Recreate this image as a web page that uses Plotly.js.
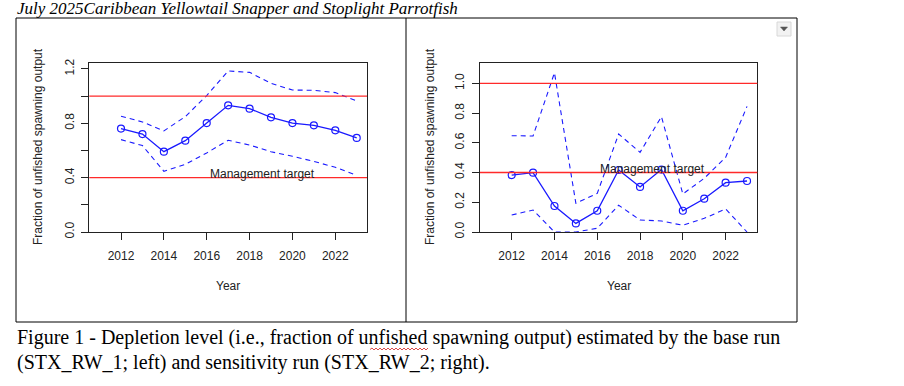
<!DOCTYPE html>
<html>
<head>
<meta charset="utf-8">
<script src="https://cdn.plot.ly/plotly-3.0.1.min.js"></script>
<style>html,body{margin:0;padding:0;background:#fff;}#chart{width:904px;height:386px;}</style>
</head>
<body>
<div id="chart"></div>
<script>
// ---- data ----
var years = [2012, 2013, 2014, 2015, 2016, 2017, 2018, 2019, 2020, 2021, 2022, 2023];
// base run (STX_RW_1, left)
var baseEst   = [0.761, 0.721, 0.591, 0.672, 0.802, 0.932, 0.908, 0.844, 0.802, 0.785, 0.748, 0.692];
var baseUpper = [0.852, 0.810, 0.744, 0.849, 1.004, 1.185, 1.175, 1.094, 1.045, 1.043, 1.026, 0.964];
var baseLower = [0.680, 0.636, 0.447, 0.498, 0.582, 0.675, 0.640, 0.591, 0.557, 0.520, 0.476, 0.417];
// sensitivity run (STX_RW_2, right)
var sensEst   = [0.383, 0.399, 0.175, 0.058, 0.143, 0.417, 0.303, 0.420, 0.143, 0.224, 0.332, 0.343];
var sensUpper = [0.648, 0.646, 1.071, 0.193, 0.260, 0.659, 0.536, 0.776, 0.256, 0.361, 0.502, 0.845];
var sensLower = [0.114, 0.148, 0.000, 0.000, 0.025, 0.180, 0.081, 0.074, 0.045, 0.092, 0.155, 0.000];
// reference levels
var unfishedLevel = 1.0;
var targetLevel = 0.4;
var targetLabel = "Management target";
var xTicks = [2012, 2014, 2016, 2018, 2020, 2022];
var leftYTicks = [0, 0.2, 0.4, 0.6, 0.8, 1.0, 1.2];
var leftYText = ["0.0", "", "0.4", "", "0.8", "", "1.2"];
var rightYTicks = [0, 0.2, 0.4, 0.6, 0.8, 1.0];
var rightYText = ["0.0", "0.2", "0.4", "0.6", "0.8", "1.0"];
var yTitle = "Fraction of unfished spawning output";
var xTitle = "Year";
var pageTitle = "July 2025Caribbean Yellowtail Snapper and Stoplight Parrotfish";
var caption1 = "Figure 1 - Depletion level (i.e., fraction of unfished spawning output) estimated by the base run";
var caption2 = "(STX_RW_1; left) and sensitivity run (STX_RW_2; right).";

// ---- layout helpers ----
var W = 904, H = 386;
function px(x) { return x / W; }
function py(y) { return 1 - y / H; }

var BLUE = "#1a1aff";
var RED = "#ff2a2a";
var SANS = "Liberation Sans, Arial, sans-serif";
var SERIF = "Liberation Serif, Times New Roman, serif";

function estTrace(y, xa, ya) {
  return {x: years, y: y, xaxis: xa, yaxis: ya, type: "scatter", mode: "lines+markers",
    line: {color: BLUE, width: 1.3},
    marker: {symbol: "circle-open", size: 7, color: BLUE, line: {width: 1.2, color: BLUE}},
    hoverinfo: "x+y", showlegend: false, cliponaxis: true};
}
function ciTrace(y, xa, ya) {
  return {x: years, y: y, xaxis: xa, yaxis: ya, type: "scatter", mode: "lines",
    line: {color: BLUE, width: 1.1, dash: "5px,4px"}, hoverinfo: "x+y", showlegend: false};
}

var traces = [
  ciTrace(baseUpper, "x", "y"), ciTrace(baseLower, "x", "y"), estTrace(baseEst, "x", "y"),
  ciTrace(sensUpper, "x2", "y2"), ciTrace(sensLower, "x2", "y2"), estTrace(sensEst, "x2", "y2")
];

function xAxis(d0, d1, anchor) {
  return {domain: [px(d0), px(d1)], range: [2010.52, 2023.48], anchor: anchor,
    tickvals: xTicks, ticktext: xTicks.map(String), ticks: "outside", ticklen: 7, tickcolor: "#222", tickwidth: 1,
    showline: true, mirror: true, linecolor: "#222", linewidth: 1, showgrid: false, zeroline: false,
    tickfont: {family: SANS, size: 12, color: "#222"}, ticklabelstandoff: 6, fixedrange: true};
}
function yAxis(top, bottom, range, tv, tt, anchor) {
  return {domain: [py(bottom), py(top)], range: range, anchor: anchor,
    tickvals: tv, ticktext: tt, tickangle: -90, ticks: "outside", ticklen: 7, tickcolor: "#222", tickwidth: 1,
    showline: true, mirror: true, linecolor: "#222", linewidth: 1, showgrid: false, zeroline: false,
    tickfont: {family: SANS, size: 12, color: "#222"}, ticklabelstandoff: 3, fixedrange: true};
}

function hline(level, xa, ya) {
  return {type: "line", xref: xa + " domain", yref: ya, x0: 0, x1: 1, y0: level, y1: level,
    line: {color: RED, width: 1.4}, layer: "above"};
}

var shapes = [
  hline(unfishedLevel, "x", "y"), hline(targetLevel, "x", "y"),
  hline(unfishedLevel, "x2", "y2"), hline(targetLevel, "x2", "y2"),
  // outer figure frame
  {type: "rect", xref: "paper", yref: "paper", x0: px(16), x1: px(797), y0: py(322), y1: py(18),
    line: {color: "#000", width: 1}},
  {type: "line", xref: "paper", yref: "paper", x0: px(406), x1: px(406), y0: py(322), y1: py(18),
    line: {color: "#000", width: 1}},
  // dropdown widget
  {type: "rect", xref: "paper", yref: "paper", x0: px(777), x1: px(791), y0: py(36), y1: py(22),
    line: {color: "#d8d8d8", width: 1}, fillcolor: "#f2f2f2"},
  {type: "path", xref: "paper", yref: "paper",
    path: "M " + px(780.5) + " " + py(27) + " L " + px(787.5) + " " + py(27) + " L " + px(784) + " " + py(31) + " Z",
    fillcolor: "#555", line: {color: "#555", width: 0.5}},
  // spell-check squiggle under "unfished"
  {type: "path", xref: "paper", yref: "paper",
    path: (function () {
      var s = "M " + px(370) + " " + py(349.5), up = true;
      for (var x = 372; x <= 428; x += 2) { s += " L " + px(x) + " " + py(up ? 348 : 350); up = !up; }
      return s;
    })(), line: {color: "#d02020", width: 0.8}}
];

var annotations = [
  {text: pageTitle, xref: "paper", yref: "paper", x: px(15), y: py(8.5), xanchor: "left", yanchor: "middle",
    showarrow: false, font: {family: SERIF, size: 17, color: "#000", style: "italic"}},
  {text: caption1, xref: "paper", yref: "paper", x: px(15), y: py(337), xanchor: "left", yanchor: "middle",
    showarrow: false, font: {family: SERIF, size: 20, color: "#000"}},
  {text: caption2, xref: "paper", yref: "paper", x: px(15), y: py(362), xanchor: "left", yanchor: "middle",
    showarrow: false, font: {family: SERIF, size: 20, color: "#000"}},
  {text: yTitle, xref: "paper", yref: "paper", x: px(38), y: py(147), textangle: -90, xanchor: "center", yanchor: "middle",
    showarrow: false, font: {family: SANS, size: 12, color: "#222"}},
  {text: yTitle, xref: "paper", yref: "paper", x: px(430), y: py(147), textangle: -90, xanchor: "center", yanchor: "middle",
    showarrow: false, font: {family: SANS, size: 12, color: "#222"}},
  {text: xTitle, xref: "paper", yref: "paper", x: px(228), y: py(286), xanchor: "center", yanchor: "middle",
    showarrow: false, font: {family: SANS, size: 12, color: "#222"}},
  {text: xTitle, xref: "paper", yref: "paper", x: px(618.6), y: py(286), xanchor: "center", yanchor: "middle",
    showarrow: false, font: {family: SANS, size: 12, color: "#222"}},
  {text: targetLabel, xref: "x", yref: "y", x: 2018.6, y: targetLevel, yshift: 4, xanchor: "center", yanchor: "middle",
    showarrow: false, font: {family: SANS, size: 12, color: "#222"}},
  {text: targetLabel, xref: "x2", yref: "y2", x: 2018.6, y: targetLevel, yshift: 4, xanchor: "center", yanchor: "middle",
    showarrow: false, font: {family: SANS, size: 12, color: "#222"}}
];

var layout = {
  width: W, height: H, margin: {l: 0, r: 0, t: 0, b: 0},
  paper_bgcolor: "#fff", plot_bgcolor: "#fff", showlegend: false,
  xaxis: xAxis(89.3, 367, "y"),
  yaxis: yAxis(62.7, 232, [0, 1.246], leftYTicks, leftYText, "x"),
  xaxis2: xAxis(480, 757.3, "y2"),
  yaxis2: yAxis(62.7, 232, [0, 1.139], rightYTicks, rightYText, "x2"),
  shapes: shapes, annotations: annotations
};

Plotly.newPlot("chart", traces, layout, {displayModeBar: false, staticPlot: true});
</script>
</body>
</html>
